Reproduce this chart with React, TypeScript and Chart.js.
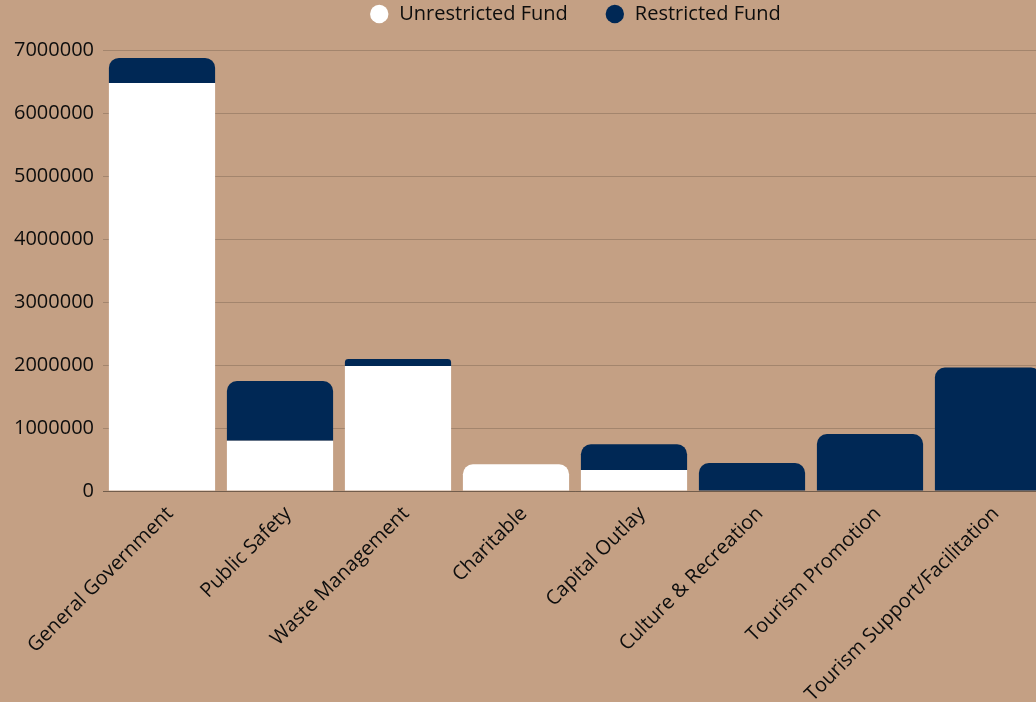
import React, { useEffect, useRef } from 'react';
import { Chart, registerables } from 'chart.js';

Chart.register(...registerables);

// ---- data ----
const categories = [
  'General Government',
  'Public Safety',
  'Waste Management',
  'Charitable',
  'Capital Outlay',
  'Culture & Recreation',
  'Tourism Promotion',
  'Tourism Support/Facilitation',
];
const seriesNames = ['Unrestricted Fund', 'Restricted Fund'];
const unrestrictedFund = [6475000, 798000, 1984000, 424000, 333000, 0, 0, 0];
const restrictedFund = [400000, 948000, 111000, 0, 408000, 444000, 905000, 1960000];
const yMin = 0;
const yMax = 7000000;
const yStep = 1000000;

// ---- styles ----
const BG = '#C4A084';
const WHITE = '#FFFFFF';
const NAVY = '#002855';
const GRID = 'rgba(0,0,0,0.17)';
const AXIS = 'rgba(0,0,0,0.3)';
const TEXT = '#0d0d0d';
const FONT = "'Open Sans', 'Noto Sans', sans-serif";
const FONT_SIZE = 20;
const RADIUS = 10;

const LEGEND_HEIGHT = 50;
const LEGEND_PADDING = 37;
const LEGEND_ROW_TOP = 4;

const legendLayout = {
  id: 'legendLayout',
  beforeInit(chart: any) {
    const legend = chart.legend;
    if (!legend) return;
    const fit = legend.fit;
    legend.fit = function (this: any) {
      fit.call(this);
      this.height = LEGEND_HEIGHT;
    };
    const draw = legend.draw;
    legend.draw = function (this: any, ...args: any[]) {
      const top = this.top;
      this.top = top + LEGEND_ROW_TOP - LEGEND_PADDING;
      draw.apply(this, args);
      this.top = top;
    };
  },
};

export default function App() {
  const canvasRef = useRef<HTMLCanvasElement | null>(null);

  useEffect(() => {
    if (!canvasRef.current) return;
    const font = { family: FONT, size: FONT_SIZE };
    const chart = new Chart(canvasRef.current, {
      type: 'bar',
      data: {
        labels: categories,
        datasets: [
          {
            label: seriesNames[0],
            data: unrestrictedFund,
            backgroundColor: WHITE,
            borderWidth: 0,
            borderRadius: (ctx: any) => (restrictedFund[ctx.dataIndex] > 0 ? 0 : RADIUS),
            barPercentage: 0.9,
            categoryPercentage: 1.0,
          },
          {
            label: seriesNames[1],
            data: restrictedFund,
            backgroundColor: NAVY,
            borderWidth: 0,
            borderRadius: RADIUS,
            barPercentage: 0.9,
            categoryPercentage: 1.0,
          },
        ],
      },
      options: {
        animation: false,
        responsive: true,
        maintainAspectRatio: false,
        layout: { padding: 0 },
        font,
        plugins: {
          legend: {
            position: 'top',
            fullSize: false,
            labels: {
              usePointStyle: true,
              pointStyle: 'circle',
              boxHeight: 13,
              padding: LEGEND_PADDING,
              color: TEXT,
              font,
            },
          },
          tooltip: { enabled: false },
        },
        scales: {
          x: {
            stacked: true,
            grid: { display: false },
            border: { display: true, color: AXIS, width: 1 },
            ticks: {
              minRotation: 45,
              maxRotation: 45,
              autoSkip: false,
              labelOffset: 8,
              color: TEXT,
              font,
            },
            afterFit: (scale: any) => {
              scale.height = 211;
            },
          },
          y: {
            stacked: true,
            min: yMin,
            max: yMax,
            grid: { color: GRID, drawTicks: false, lineWidth: 1 },
            border: { display: false },
            ticks: {
              stepSize: yStep,
              padding: 9,
              color: TEXT,
              font,
              callback: (v: any) => String(v),
            },
            afterFit: (scale: any) => {
              scale.width = 103;
            },
          },
        },
      },
      plugins: [legendLayout],
    } as any);
    return () => chart.destroy();
  }, []);

  return (
    <div style={{ position: 'fixed', inset: 0, overflow: 'hidden', background: BG }}>
      <div style={{ position: 'absolute', left: 0, top: 0, width: 1047, height: 702 }}>
        <canvas ref={canvasRef} />
      </div>
    </div>
  );
}
